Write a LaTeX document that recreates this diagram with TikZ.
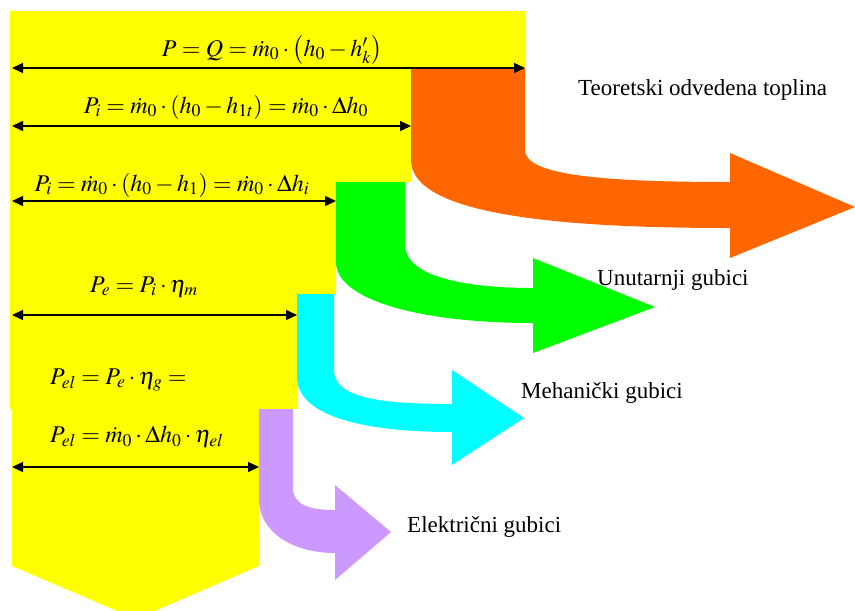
\documentclass[tikz,border=0pt]{standalone}
\usepackage{mathptmx}
\usepackage[no-math]{fontspec}
\setmainfont{Liberation Serif}
\usetikzlibrary{arrows.meta,positioning}
\definecolor{FlowYellow}{HTML}{FFFF00}
\definecolor{FlowOrange}{HTML}{FF6600}
\definecolor{FlowGreen}{HTML}{00FF00}
\definecolor{FlowCyan}{HTML}{00FFFF}
\definecolor{FlowLilac}{HTML}{CC99FF}
\newcommand{\mdot}{\dot{m}_0}

\begin{document}
\begin{tikzpicture}[x=1pt,y=-1pt,
    dim/.style={{Triangle[length=11pt,width=10pt]}-{Triangle[length=11pt,width=10pt]},line width=1.4pt},
    formula/.style={font=\fontsize{24}{28}\selectfont,inner sep=0pt},
    loss/.style={font=\fontsize{23}{27}\selectfont,anchor=west,inner sep=0pt}
  ]
    \clip (0,0) rectangle (855,611);
    % main stream
    \fill[FlowYellow] (10,11) -- (525,11) -- (525,68) -- (411,68) -- (411,182)
      -- (336,182) -- (336,294) -- (297,294) -- (297,409) -- (259,409)
      -- (259,566) -- (136,619) -- (12,566) -- (12,409) -- (10,409) -- cycle;
    % loss streams
    \fill[FlowOrange] (411,68) -- (525,68) -- (525,150)
      .. controls (525,175) and (600,182) .. (730,182)
      -- (730,153) -- (855,207) -- (730,258) -- (730,228)
      .. controls (560,228) and (411,215) .. (411,160) -- cycle;
    \fill[FlowGreen] (336,182) -- (405,182) -- (405,245)
      .. controls (405,275) and (460,288) .. (533,288)
      -- (533,258) -- (655,307) -- (533,353) -- (533,323)
      .. controls (420,323) and (336,300) .. (336,262) -- cycle;
    \fill[FlowCyan] (297,294) -- (334,294) -- (334,370)
      .. controls (334,398) and (380,404) .. (452,404)
      -- (452,370) -- (524,418) -- (452,465) -- (452,432)
      .. controls (360,432) and (297,415) .. (297,377) -- cycle;
    \fill[FlowLilac] (259,409) -- (293,409) -- (293,488)
      .. controls (293,505) and (310,510) .. (335,510)
      -- (335,485) -- (391,532) -- (335,580) -- (335,553)
      .. controls (290,553) and (259,530) .. (259,500) -- cycle;
    % dimension lines
    \coordinate (q0) at (12,68);  \coordinate (q1) at (525,68);
    \coordinate (t0) at (12,126); \coordinate (t1) at (411,126);
    \coordinate (i0) at (12,201); \coordinate (i1) at (336,201);
    \coordinate (e0) at (12,315); \coordinate (e1) at (297,315);
    \coordinate (g0) at (12,467); \coordinate (g1) at (259,467);
    \draw[dim] (q0) -- (q1);
    \draw[dim] (t0) -- (t1);
    \draw[dim] (i0) -- (i1);
    \draw[dim] (e0) -- (e1);
    \draw[dim] (g0) -- (g1);
    \node[formula] (fq) at (272,50) {$P=Q=\mdot\cdot\bigl(h_0-h_k'\bigr)$};
    \node[formula] (ft) at (226,107) {$P_i=\mdot\cdot(h_0-h_{1t})=\mdot\cdot\Delta h_0$};
    \node[formula] (fi) at (172,185) {$P_i=\mdot\cdot(h_0-h_1)=\mdot\cdot\Delta h_i$};
    \node[formula] (fe) at (144,287) {$P_e=P_i\cdot\eta_m$};
    \node[formula,anchor=west] (fg) at (50,380) {$P_{el}=P_e\cdot\eta_g=$};
    \node[formula,anchor=west] (fel) at (50,437) {$P_{el}=\mdot\cdot\Delta h_0\cdot\eta_{el}$};
    % loss labels
    \node[loss] (lq) at (578,90) {Teoretski odvedena toplina};
    \node[loss] (li) at (597,280) {Unutarnji gubici};
    \node[loss] (lm) at (521,393) {Mehanički gubici};
    \node[loss] (le) at (407,527) {Električni gubici};
\end{tikzpicture}
\end{document}
